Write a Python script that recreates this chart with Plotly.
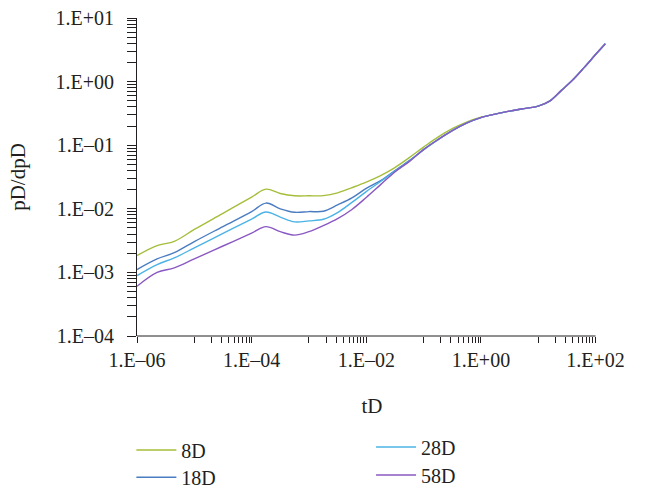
import plotly.graph_objects as go

# ---- data (log-log) ----
tD = [1e-6, 2.24e-6, 4.47e-6, 1e-5, 3.16e-5, 1e-4, 1.78e-4, 3.16e-4, 5.62e-4, 1e-3,
      1.78e-3, 3.16e-3, 5.62e-3, 1e-2, 1.78e-2, 3.16e-2, 5.62e-2, 0.1, 0.178, 0.316,
      0.562, 1.0, 1.78, 3.16, 5.62, 10.0, 15.8, 25.1, 39.8, 63.1, 100.0, 148.0]

late = [0.308, 0.344, 0.376, 0.412, 0.493, 0.721, 1.06, 1.66, 2.66, 3.95]

pd_8D = [1.84e-3, 2.64e-3, 3.08e-3, 4.73e-3, 8.49e-3, 1.53e-2, 2.04e-2, 1.74e-2, 1.60e-2, 1.60e-2,
         1.61e-2, 1.78e-2, 2.15e-2, 2.63e-2, 3.33e-2, 4.45e-2, 6.38e-2, 9.33e-2, 0.134, 0.182,
         0.231, 0.275] + late
pd_18D = [1.11e-3, 1.63e-3, 2.04e-3, 3.05e-3, 5.26e-3, 9.06e-3, 1.23e-2, 1.00e-2, 8.81e-3, 9.04e-3,
          9.14e-3, 1.15e-2, 1.48e-2, 2.09e-2, 2.77e-2, 3.98e-2, 5.73e-2, 8.53e-2, 0.1225, 0.170,
          0.223, 0.272] + late
pd_28D = [8.91e-4, 1.33e-3, 1.69e-3, 2.43e-3, 4.09e-3, 6.89e-3, 8.91e-3, 7.41e-3, 6.22e-3, 6.46e-3,
          6.84e-3, 8.71e-3, 1.26e-2, 1.86e-2, 2.69e-2, 3.89e-2, 5.62e-2, 8.53e-2, 0.1225, 0.170,
          0.223, 0.272] + late
pd_58D = [6.04e-4, 1.00e-3, 1.18e-3, 1.63e-3, 2.60e-3, 4.15e-3, 5.25e-3, 4.37e-3, 3.85e-3, 4.37e-3,
          5.43e-3, 7.00e-3, 9.77e-3, 1.51e-2, 2.40e-2, 3.80e-2, 5.52e-2, 8.53e-2, 0.1225, 0.170,
          0.223, 0.272] + late

names = ["8D", "18D", "28D", "58D"]
series = [pd_8D, pd_18D, pd_28D, pd_58D]
colors = ["#A5BE3A", "#4A7CC0", "#4BB3E6", "#8A58C2"]

x_major = [1e-6, 1e-4, 1e-2, 1.0, 1e2]
x_major_text = ["1.E\u201306", "1.E\u201304", "1.E\u201302", "1.E+00", "1.E+02"]
x_minor = [m * 10.0 ** e for e in (-5, -3, -1, 1) for m in range(1, 10)]

y_major = [1e-4, 1e-3, 1e-2, 1e-1, 1.0, 10.0]
y_major_text = ["1.E\u201304", "1.E\u201303", "1.E\u201302", "1.E\u201301", "1.E+00", "1.E+01"]
y_minor = [m * 10.0 ** e for e in (-4, -3, -2, -1, 0) for m in range(2, 10)]

FONT = "Liberation Serif, DejaVu Serif, serif"
INK = "#231f20"
FS = 20

fig = go.Figure()
legend_ids = ["legend", "legend2", "legend3", "legend4"]
for nm, ys, c, lg in zip(names, series, colors, legend_ids):
    fig.add_trace(go.Scatter(x=tD, y=ys, mode="lines", name=nm,
                             line=dict(color=c, width=1.4, shape="spline", smoothing=1.0),
                             legend=lg))

leg_common = dict(font=dict(family=FONT, size=FS, color=INK), bgcolor="rgba(0,0,0,0)",
                  xanchor="left", yanchor="middle", itemclick=False, itemwidth=40)
fig.update_layout(
    width=645, height=490,
    margin=dict(l=137, r=38, t=18, b=154, autoexpand=False),
    paper_bgcolor="white", plot_bgcolor="white",
    font=dict(family=FONT, size=FS, color=INK),
    showlegend=True,
    legend=dict(x=-0.012, y=-0.3585, **leg_common),
    legend2=dict(x=-0.012, y=-0.444, **leg_common),
    legend3=dict(x=0.498, y=-0.349, **leg_common),
    legend4=dict(x=0.498, y=-0.437, **leg_common),
    xaxis=dict(type="log", range=[-6, 2.2], showline=False, showgrid=False, zeroline=False,
               automargin=False,
               ticks="outside", ticklen=6, tickwidth=1, tickcolor=INK,
               tickmode="array", tickvals=x_major, ticktext=x_major_text,
               tickfont=dict(family=FONT, size=FS, color=INK),
               minor=dict(tickmode="array", tickvals=x_minor, ticks="outside", ticklen=6,
                          tickwidth=1, tickcolor=INK, showgrid=False),
               title=dict(text="tD", standoff=28, font=dict(family=FONT, size=21, color=INK))),
    yaxis=dict(type="log", range=[-4, 1], showline=True, linecolor=INK, linewidth=1,
               showgrid=False, zeroline=False, automargin=False,
               ticks="outside", ticklen=9, tickwidth=1, tickcolor=INK,
               ticklabelstandoff=9,
               tickmode="array", tickvals=y_major, ticktext=y_major_text,
               tickfont=dict(family=FONT, size=FS, color=INK),
               minor=dict(tickmode="array", tickvals=y_minor, ticks="outside", ticklen=9,
                          tickwidth=1, tickcolor=INK, showgrid=False),
               title=dict(text="pD/dpD", standoff=24, font=dict(family=FONT, size=21, color=INK))),
)

# x-axis line ends at 1.E+02 (curves continue a little beyond it)
fig.add_shape(type="line", xref="x", yref="paper", x0=x_major[0], x1=x_major[-1], y0=0, y1=0,
              line=dict(color=INK, width=1))

fig.write_html("out.html")
